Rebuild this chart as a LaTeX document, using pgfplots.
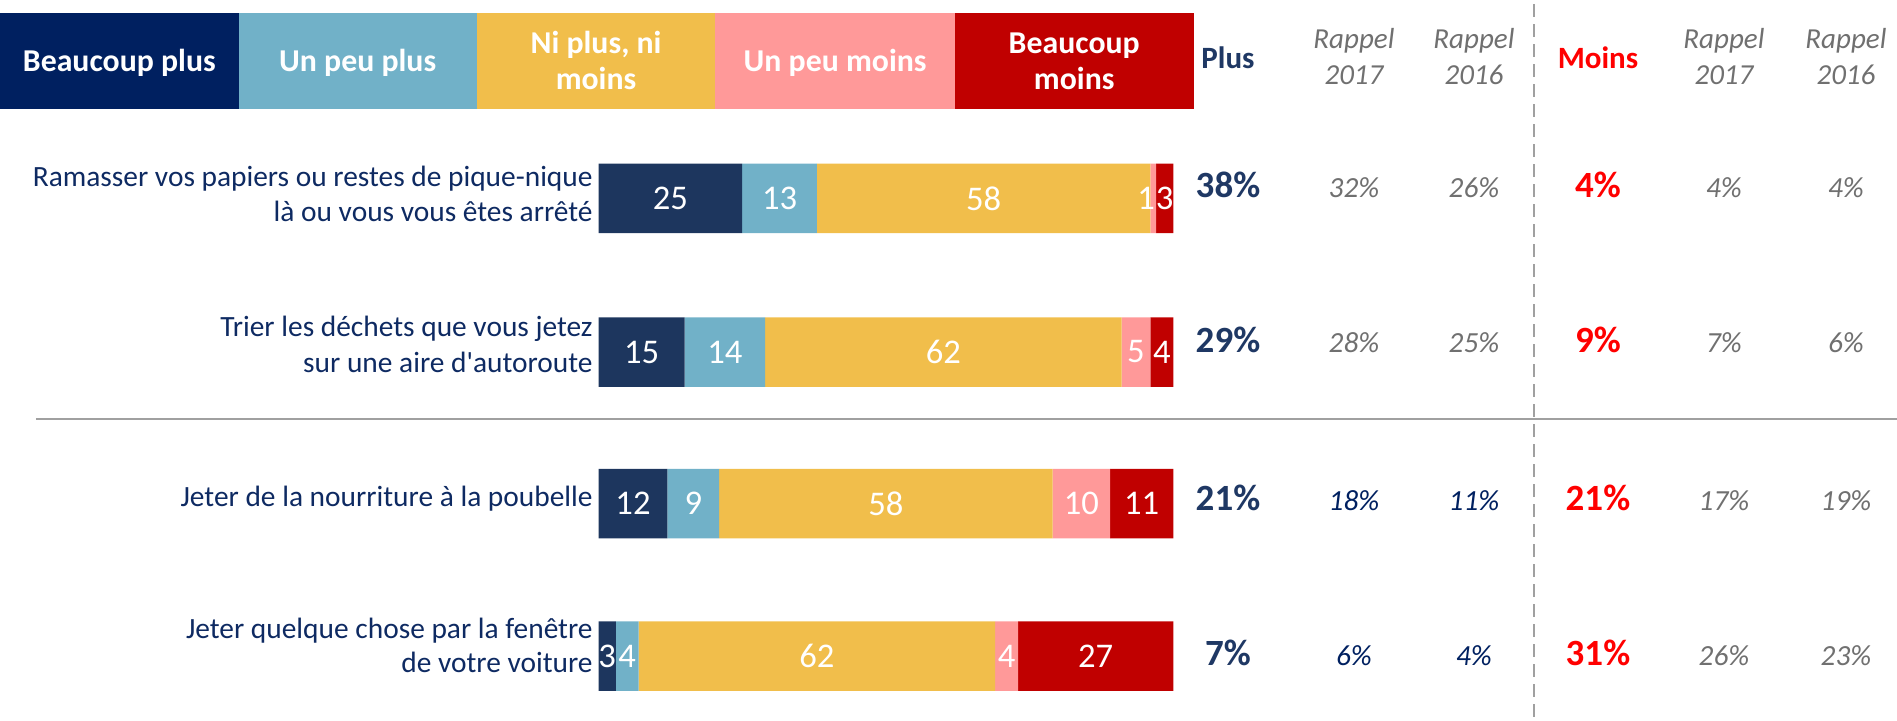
\documentclass[border=0pt]{standalone}
\usepackage{fontspec}
\setmainfont{Carlito}
\usepackage{pgfplots}
\pgfplotsset{compat=1.18}
\usepackage{pgfplotstable}

\definecolor{hdrnavy}{HTML}{002060}
\definecolor{barnavy}{HTML}{1D365E}
\definecolor{lblue}{HTML}{71B1C8}
\definecolor{yell}{HTML}{F1BE4B}
\definecolor{pink}{HTML}{FF9999}
\definecolor{dred}{HTML}{C00000}
\definecolor{txtnavy}{HTML}{0E2A62}
\definecolor{valnavy}{HTML}{1F3864}
\definecolor{rgray}{HTML}{707070}
\definecolor{brred}{HTML}{FF0000}
\definecolor{lgray}{HTML}{A0A0A0}

\newcommand\fs[2]{\fontsize{#1bp}{#2bp}\selectfont}

% y = row centre (pixels from the top), then the five shares
\pgfplotstableread{
y bp pp ni pm bm
198.3 25 13 58 1 3
352.0 15 14 62 5 4
503.7 12 9 58 10 11
656.2 3 4 62 4 27
}\bars

\pgfplotsset{
  seg/.style={
    fill=#1, draw=none,
    point meta=explicit symbolic,
    nodes near coords={\pgfplotspointmeta},
    every node near coord/.append style={anchor=center, text=white,
      inner sep=0pt, font=\fs{17.3}{20},
      xshift={ifthenelse(\pgfplotspointmeta==1,-3.5,0)}},
  },
}

\begin{document}
\begin{tikzpicture}
\path[use as bounding box] (0,0) rectangle (948.5bp,-360.5bp);
\begin{axis}[
  at={(0,0)}, anchor=north west,
  scale only axis, width=948.5bp, height=360.5bp,
  xmin=-104.12, xmax=225.90, ymin=0, ymax=721, y dir=reverse,
  hide axis, clip=false,
  xbar stacked, bar width=69.5,
]
\addplot[seg=barnavy] table[x=bp,y=y,meta=bp]{\bars};
\addplot[seg=lblue] table[x=pp,y=y,meta=pp]{\bars};
\addplot[seg=yell] table[x=ni,y=y,meta=ni]{\bars};
\addplot[seg=pink] table[x=pm,y=y,meta=pm]{\bars};
\addplot[seg=dred] table[x=bm,y=y,meta=bm]{\bars};
\end{axis}

\begin{scope}[x=0.5bp,y=-0.5bp]
  % legend header
  \fill[hdrnavy] (0,12.7) rectangle (238.7,108.7);
  \fill[lblue] (238.7,12.7) rectangle (476.7,108.7);
  \fill[yell] (476.7,12.7) rectangle (715.4,108.7);
  \fill[pink] (715.4,12.7) rectangle (954.9,108.7);
  \fill[dred] (954.9,12.7) rectangle (1193.6,108.7);
  \tikzset{hdr/.style={anchor=base, inner sep=0pt, text=white, font=\fs{15.9}{18}\bfseries}}
  \node[hdr] at (119.35,71.7) {Beaucoup plus};
  \node[hdr] at (357.7,71.7) {Un peu plus};
  \node[hdr] at (596.05,53.3) {Ni plus, ni};
  \node[hdr] at (596.05,89.5) {moins};
  \node[hdr] at (835.15,71.7) {Un peu moins};
  \node[hdr] at (1074.25,53.3) {Beaucoup};
  \node[hdr] at (1074.25,89.5) {moins};

  % column headers
  \tikzset{
    colb/.style={anchor=base, inner sep=0pt, font=\fs{15.5}{18}\bfseries},
    coli/.style={anchor=base, inner sep=0pt, text=rgray, font=\fs{14.5}{18}\itshape},
    valb/.style={anchor=base, inner sep=0pt, font=\fs{18.5}{22}\bfseries},
    vali/.style={anchor=base, inner sep=0pt, font=\fs{14.6}{18}\itshape},
    cat/.style={anchor=base east, inner sep=0pt, text=txtnavy, font=\fs{14.7}{17}},
  }
  \node[colb, text=valnavy] at (1228,68.3) {Plus};
  \node[coli] at (1354,48.3) {Rappel};
  \node[coli] at (1354,85) {2017};
  \node[coli] at (1474,48.3) {Rappel};
  \node[coli] at (1474,85) {2016};
  \node[colb, text=brred] at (1598,68.3) {Moins};
  \node[coli] at (1724,48.3) {Rappel};
  \node[coli] at (1724,85) {2017};
  \node[coli] at (1846,48.3) {Rappel};
  \node[coli] at (1846,85) {2016};

  % category labels
  \node[cat] at (593,187) {Ramasser vos papiers ou restes de pique-nique};
  \node[cat] at (593,221.7) {là ou vous vous êtes arrêté};
  \node[cat] at (593,337) {Trier les déchets que vous jetez};
  \node[cat] at (593,372.7) {sur une aire d\textquotesingle autoroute};
  \node[cat] at (593,506.7) {Jeter de la nourriture à la poubelle};
  \node[cat] at (593,639) {Jeter quelque chose par la fenêtre};
  \node[cat] at (593,673) {de votre voiture};

  % values
  \foreach \b/\p/\pa/\pb/\pc/\m/\ma/\mb in {
      198/38/32/26/rgray/4/4/4,
      353/29/28/25/rgray/9/7/6,
      511/21/18/11/hdrnavy/21/17/19,
      666/7/6/4/hdrnavy/31/26/23}{
    \node[valb, text=valnavy] at (1228,\b) {\p\%};
    \node[vali, text=\pc] at (1354,\b) {\pa\%};
    \node[vali, text=\pc] at (1474,\b) {\pb\%};
    \node[valb, text=brred] at (1598,\b) {\m\%};
    \node[vali, text=rgray] at (1724,\b) {\ma\%};
    \node[vali, text=rgray] at (1846,\b) {\mb\%};
  }

  % separators
  \draw[lgray, line width=1.25bp] (36,419) -- (1897,419);
  \draw[lgray, line width=1bp, dash pattern=on 6.5bp off 3.5bp] (1534,4) -- (1534,721);
\end{scope}
\end{tikzpicture}
\end{document}
